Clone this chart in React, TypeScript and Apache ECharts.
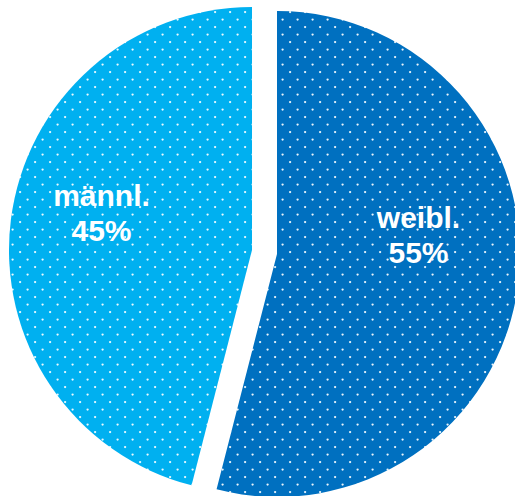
import React, { useEffect, useRef } from "react";
import * as echarts from "echarts";

const categories = ["weibl.", "männl."];
const sliceValues = [54, 46];
const percentLabels = ["55%", "45%"];
const sliceColors = ["#0070C0", "#00B0F0"];

const sliceCenters = [
  [277, 254],
  [252, 250],
];
const labelShift = [
  [18, -35],
  [-27, -21],
];

function dotPattern(color: string) {
  const svg =
    `<svg xmlns="http://www.w3.org/2000/svg" width="15" height="15">` +
    `<rect width="15" height="15" fill="${color}"/>` +
    `<circle cx="12.6" cy="4.6" r="1.15" fill="#ffffff" fill-opacity="0.92"/>` +
    `<circle cx="5.1" cy="12.1" r="1.15" fill="#ffffff" fill-opacity="0.92"/>` +
    `</svg>`;
  return {
    image: "data:image/svg+xml;charset=utf-8," + encodeURIComponent(svg),
    repeat: "repeat",
    imageWidth: 15,
    imageHeight: 15,
  } as any;
}

export default function App() {
  const ref = useRef<HTMLDivElement>(null);
  useEffect(() => {
    if (!ref.current) return;
    const chart = echarts.init(ref.current, undefined, { renderer: "svg" });
    const option: any = {
      animation: false,
      series: categories.map((_, si) => ({
        type: "pie",
        center: sliceCenters[si],
        radius: 243,
        startAngle: 90,
        clockwise: true,
        avoidLabelOverlap: false,
        silent: true,
        labelLine: { show: false },
        labelLayout: { dx: labelShift[si][0], dy: labelShift[si][1] },
        emphasis: { disabled: true },
        data: categories.map((name, i) => ({
          name,
          value: sliceValues[i],
          itemStyle:
            i === si
              ? { color: dotPattern(sliceColors[i]), borderWidth: 0 }
              : { color: "rgba(0,0,0,0)", borderWidth: 0 },
          label:
            i === si
              ? {
                  show: true,
                  position: "inside",
                  formatter: `${name}\n${percentLabels[i]}`,
                  color: "#ffffff",
                  fontFamily: "'Liberation Sans', Arial, sans-serif",
                  fontWeight: "bold",
                  fontSize: 30,
                  lineHeight: 35,
                  align: "center",
                }
              : { show: false },
        })),
      })),
    };
    chart.setOption(option);
    return () => chart.dispose();
  }, []);
  return (
    <div
      ref={ref}
      style={{ position: "absolute", left: 0, top: 0, width: 515, height: 496 }}
    />
  );
}
